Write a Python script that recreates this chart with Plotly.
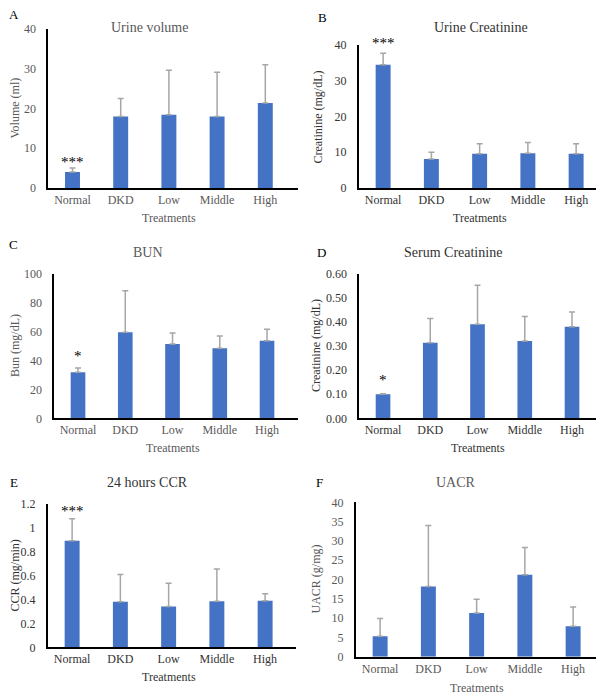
import plotly.graph_objects as go

# the page keeps its default 8 px body margin, so the figure is drawn
# 8 px in from the top-left corner of the window
OFF = 8
W, H = 604 - OFF, 697 - OFF

groups = ['Normal', 'DKD', 'Low', 'Middle', 'High']

urine_volume = [4.0, 18.0, 18.4, 18.0, 21.4]
urine_volume_sd = [1.0, 4.5, 11.2, 11.1, 9.6]

urine_creat = [34.5, 8.1, 9.6, 9.7, 9.6]
urine_creat_sd = [3.2, 1.9, 2.8, 3.0, 2.8]

bun = [31.8, 59.5, 51.4, 48.4, 53.7]
bun_sd = [3.0, 28.7, 7.6, 8.5, 7.8]

serum_creat = [0.100, 0.314, 0.390, 0.321, 0.380]
serum_creat_sd = [0.002, 0.100, 0.162, 0.101, 0.061]

ccr = [0.89, 0.38, 0.34, 0.385, 0.39]
ccr_sd = [0.185, 0.228, 0.195, 0.27, 0.058]

uacr = [5.3, 18.2, 11.3, 21.2, 7.9]
uacr_sd = [4.6, 15.8, 3.6, 7.1, 5.0]

# panel letter, title, y label, values, sd, significance mark on Normal
panels = [
    ('A', 'Urine volume', 'Volume (ml)', urine_volume, urine_volume_sd, '***'),
    ('B', 'Urine Creatinine', 'Creatinine (mg/dL)', urine_creat, urine_creat_sd, '***'),
    ('C', 'BUN', 'Bun (mg/dL)', bun, bun_sd, '*'),
    ('D', 'Serum Creatinine', 'Creatinine (mg/dL)', serum_creat, serum_creat_sd, '*'),
    ('E', '24 hours CCR', 'CCR (mg/min)', ccr, ccr_sd, '***'),
    ('F', 'UACR', 'UACR (g/mg)', uacr, uacr_sd, ''),
]

# window-pixel layout of each panel: left, category step, x range end, top,
# bottom, y max, dtick, tick format, text colour, letter pos, title pos,
# ylabel x, xlabel y, star shift
geo = [
    dict(x0=48.4, step=48.2, xend=4.68, top=29, bot=188, ymax=40, dt=10, fmt='',
         col='#595959', let=(14, 14), tit=(149, 27), ylx=15, xly=218, sh=6),
    dict(x0=359, step=48.25, xend=4.47, top=45, bot=188, ymax=40, dt=10, fmt='',
         col='#333333', let=(322, 18), tit=(481, 27), ylx=317, xly=218, sh=10),
    dict(x0=54.4, step=47.25, xend=4.66, top=273.7, bot=418.3, ymax=100, dt=20, fmt='',
         col='#595959', let=(13, 244), tit=(148, 252), ylx=15, xly=448, sh=12),
    dict(x0=359.4, step=47.25, xend=4.59, top=273.7, bot=418.3, ymax=0.6, dt=0.1, fmt='.2f',
         col='#333333', let=(321, 252), tit=(453, 252), ylx=316, xly=448, sh=14),
    dict(x0=48, step=48.25, xend=4.65, top=503.7, bot=647.3, ymax=1.2, dt=0.2, fmt='',
         col='#333333', let=(14, 482), tit=(147, 482), ylx=14, xly=677, sh=8),
    dict(x0=356, step=48.25, xend=4.5, top=502.3, bot=656.7, ymax=40, dt=5, fmt='',
         col='#595959', let=(319, 482), tit=(456, 482), ylx=315, xly=688, sh=8),
]


def px_x(x):
    return (x - OFF) / W


def px_y(y):
    return 1 - (y - OFF) / H


FONT = 'Liberation Serif'

fig = go.Figure()
annotations = []
layout = {}

for i, ((letter, title, ylab, vals, sd, mark), g) in enumerate(zip(panels, geo)):
    n = '' if i == 0 else str(i + 1)
    xa, ya = 'x' + n, 'y' + n
    fig.add_trace(go.Bar(
        x=groups, y=vals, xaxis=xa, yaxis=ya,
        marker=dict(color='#4472C4', line=dict(width=0)),
        error_y=dict(type='data', array=sd, arrayminus=[0] * len(sd), symmetric=False,
                     color='#a6a6a6', thickness=1.5, width=3),
        showlegend=False,
    ))
    right = g['x0'] + (g['xend'] + 0.5) * g['step']
    layout['xaxis' + n] = dict(
        domain=[px_x(g['x0']), px_x(right)], anchor=ya, range=[-0.5, g['xend']],
        showline=True, linecolor='black', linewidth=1.5, ticks='', showgrid=False,
        automargin=False, tickfont=dict(family=FONT, size=12, color=g['col']),
        fixedrange=True,
    )
    layout['yaxis' + n] = dict(
        domain=[px_y(g['bot']), px_y(g['top'])], anchor=xa, range=[0, g['ymax']],
        dtick=g['dt'], tickformat=g['fmt'], showline=True, linecolor='black', linewidth=2,
        ticks='', showgrid=False, zeroline=False, automargin=False, ticklabelstandoff=8,
        tickfont=dict(family=FONT, size=12, color=g['col']), fixedrange=True,
    )
    annotations += [
        dict(text=letter, x=px_x(g['let'][0]), y=px_y(g['let'][1]), xref='paper', yref='paper',
             xanchor='center', yanchor='middle', showarrow=False,
             font=dict(family=FONT, size=13, color='black')),
        dict(text=title, x=px_x(g['tit'][0]), y=px_y(g['tit'][1]), xref='paper', yref='paper',
             xanchor='center', yanchor='middle', showarrow=False,
             font=dict(family=FONT, size=14, color=g['col'])),
        dict(text=ylab, x=px_x(g['ylx']), y=px_y((g['top'] + g['bot']) / 2),
             xref='paper', yref='paper', textangle=-90, xanchor='center', yanchor='middle',
             showarrow=False, font=dict(family=FONT, size=12, color=g['col'])),
        dict(text='Treatments', x=px_x(g['x0'] + 2.5 * g['step']), y=px_y(g['xly']),
             xref='paper', yref='paper', xanchor='center', yanchor='middle', showarrow=False,
             font=dict(family=FONT, size=12, color=g['col'])),
    ]
    if mark:
        annotations.append(dict(
            text=mark, x=groups[0], y=vals[0] + sd[0], xref=xa, yref=ya,
            xanchor='center', yanchor='middle', yshift=g['sh'], showarrow=False,
            font=dict(family=FONT, size=15, color='black')))

fig.update_layout(
    width=W, height=H, margin=dict(l=0, r=0, t=0, b=0, autoexpand=False),
    paper_bgcolor='white', plot_bgcolor='white', bargap=0.69,
    annotations=annotations, **layout,
)

fig.write_html('out.html')
